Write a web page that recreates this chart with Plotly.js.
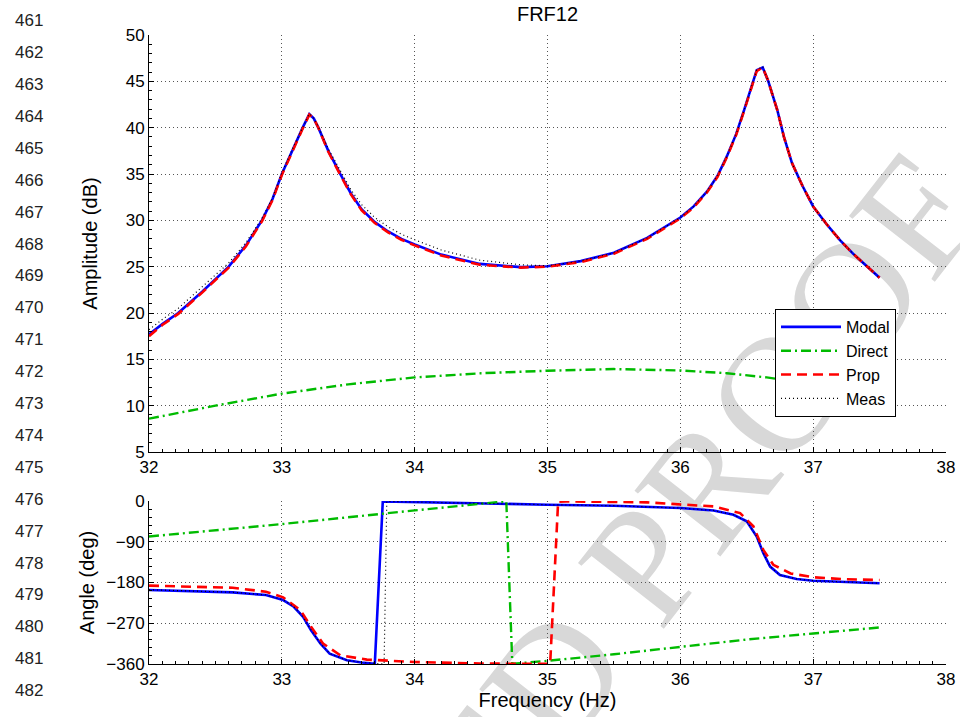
<!DOCTYPE html>
<html>
<head>
<meta charset="utf-8">
<script src="https://cdn.plot.ly/plotly-3.0.1.min.js"></script>
<style>
  html, body { margin: 0; padding: 0; background: #ffffff; }
  #chart { width: 960px; height: 717px; }
</style>
</head>
<body>
<div id="chart"></div>
<script>
// ---------- Amplitude (dB) ----------
const freqAmp = [32.0, 32.1, 32.22, 32.4, 32.6, 32.73, 32.85, 32.93, 33.0, 33.08, 33.157, 33.207, 33.24, 33.275, 33.35, 33.44, 33.52, 33.6, 33.7, 33.8, 33.9, 34.0, 34.2, 34.49, 34.8, 35.0, 35.25, 35.5, 35.75, 36.0, 36.1, 36.2, 36.28, 36.35, 36.42, 36.48, 36.53, 36.575, 36.62, 36.66, 36.73, 36.78, 36.84, 36.92, 37.0, 37.1, 37.2, 37.3, 37.4, 37.5];
const ampModal = [17.7, 18.8, 20.0, 22.3, 25.0, 27.3, 30.0, 32.3, 35.0, 37.6, 40.0, 41.45, 41.0, 40.0, 37.5, 35.0, 32.9, 31.2, 29.8, 28.8, 28.0, 27.4, 26.3, 25.3, 24.95, 25.05, 25.6, 26.5, 28.1, 30.3, 31.5, 33.1, 34.8, 36.9, 39.3, 41.9, 44.2, 46.2, 46.5, 45.1, 41.9, 39.0, 36.2, 33.7, 31.5, 29.6, 27.9, 26.4, 25.1, 23.8];
const ampProp  = [17.5, 18.7, 19.9, 22.2, 24.9, 27.2, 29.9, 32.2, 34.9, 37.5, 39.9, 41.4, 41.0, 40.0, 37.4, 34.9, 32.8, 31.1, 29.7, 28.7, 27.9, 27.3, 26.2, 25.2, 24.9, 25.0, 25.5, 26.4, 28.0, 30.2, 31.4, 33.0, 34.7, 36.8, 39.2, 41.8, 44.1, 46.1, 46.5, 45.1, 41.9, 39.0, 36.2, 33.7, 31.5, 29.6, 27.9, 26.4, 25.1, 23.8];
const ampMeas  = [18.2, 19.3, 20.5, 22.8, 25.4, 27.6, 30.2, 32.4, 35.1, 37.7, 40.1, 41.5, 41.0, 40.1, 37.7, 35.3, 33.3, 31.7, 30.3, 29.3, 28.5, 27.9, 26.8, 25.7, 25.2, 25.1, 25.6, 26.5, 28.1, 30.3, 31.5, 33.1, 34.8, 36.9, 39.3, 41.9, 44.2, 46.2, 46.6, 45.1, 41.9, 39.0, 36.2, 33.7, 31.5, 29.6, 27.9, 26.4, 25.1, 23.8];
const freqAmpDirect = [32.0, 32.5, 33.0, 33.5, 34.0, 34.5, 35.0, 35.5, 36.0, 36.35, 36.65, 37.0, 37.5];
const ampDirect = [8.6, 10.0, 11.3, 12.3, 13.05, 13.5, 13.77, 13.95, 13.8, 13.5, 13.05, 12.3, 11.0];

// ---------- Angle (deg) ----------
const freqPhModal = [32.0, 32.3, 32.63, 32.88, 33.01, 33.09, 33.16, 33.22, 33.29, 33.36, 33.49, 33.6, 33.70, 33.76, 34.0, 34.49, 35.0, 35.5, 36.0, 36.25, 36.4, 36.5, 36.575, 36.625, 36.676, 36.75, 36.875, 37.0, 37.25, 37.5];
const phModal = [-196.6, -198.5, -201.8, -207.7, -218.8, -233.6, -255.8, -285.3, -314.8, -337.0, -351.8, -356.5, -359.5, -0.9, -2.5, -6.0, -8.2, -10.4, -15.6, -20.8, -30.4, -45.0, -78.5, -115.3, -144.9, -163.4, -172.2, -176.0, -179.6, -181.8];
const freqPhMeas = [32.0, 32.3, 32.63, 32.88, 33.01, 33.09, 33.16, 33.22, 33.29, 33.36, 33.49, 33.6, 33.70, 33.77, 33.79, 34.0, 34.49, 35.0, 35.5, 36.0, 36.25, 36.4, 36.5, 36.575, 36.625, 36.676, 36.75, 36.875, 37.0, 37.25, 37.5];
const phMeas = [-196.0, -198.0, -201.5, -207.5, -218.5, -233.0, -255.5, -285.0, -314.5, -337.0, -351.5, -356.5, -359.3, -359.9, -1.0, -2.5, -6.0, -8.2, -10.4, -15.6, -20.8, -30.4, -45.0, -78.5, -115.3, -144.9, -163.4, -172.2, -176.0, -179.6, -181.8];
const freqPhProp = [32.0, 32.63, 32.88, 33.01, 33.14, 33.22, 33.31, 33.44, 33.64, 34.0, 34.49, 34.94, 35.02, 35.08, 35.14, 35.75, 36.25, 36.45, 36.55, 36.625, 36.70, 36.83, 37.0, 37.25, 37.5];
const phProp = [-187.0, -191.5, -200.4, -212.8, -241.0, -278.0, -314.8, -340.7, -350.3, -355.6, -359.0, -359.8, -359.8, -1.5, -0.8, -3.0, -12.0, -26.7, -56.0, -108.0, -141.0, -160.0, -168.5, -172.9, -174.5];
const freqPhDirect = [32.0, 33.0, 34.0, 34.49, 34.64, 34.69, 34.735, 35.0, 35.5, 36.0, 36.5, 37.0, 37.5];
const phDirect = [-78.4, -51.0, -20.8, -6.0, -2.0, -0.5, -359.5, -353.0, -338.5, -322.3, -306.0, -292.6, -279.3];

// ---------- Labels ----------
const seriesNames = ["Modal", "Direct", "Prop", "Meas"];
const xTicks = [32, 33, 34, 35, 36, 37, 38];
const ampTicks = [5, 10, 15, 20, 25, 30, 35, 40, 45, 50];
const angleTicks = [-360, -270, -180, -90, 0];
const lineNumbers = [461, 462, 463, 464, 465, 466, 467, 468, 469, 470, 471, 472, 473, 474, 475, 476, 477, 478, 479, 480, 481, 482];
const watermark = "UNCORRECTED PROOF";

// ---------- Styles ----------
const FONT = "Liberation Sans, Arial, Helvetica, sans-serif";
const sModal  = {color: "#0000ff", width: 2.6, dash: "solid"};
const sDirect = {color: "#00bb00", width: 2.4, dash: "10px,4px,2px,4px"};
const sProp   = {color: "#ff0000", width: 2.6, dash: "10px,6px"};
const sMeas   = {color: "#000000", width: 1.2, dash: "1px,3px"};

const traces = [
  {x: freqAmp, y: ampModal, name: seriesNames[0], type: "scatter", mode: "lines", line: sModal, xaxis: "x", yaxis: "y", legendrank: 1},
  {x: freqAmpDirect, y: ampDirect, name: seriesNames[1], type: "scatter", mode: "lines", line: sDirect, xaxis: "x", yaxis: "y", legendrank: 2},
  {x: freqAmp, y: ampProp, name: seriesNames[2], type: "scatter", mode: "lines", line: sProp, xaxis: "x", yaxis: "y", legendrank: 3},
  {x: freqAmp, y: ampMeas, name: seriesNames[3], type: "scatter", mode: "lines", line: sMeas, xaxis: "x", yaxis: "y", legendrank: 4},
  {x: freqPhModal, y: phModal, name: seriesNames[0], type: "scatter", mode: "lines", line: sModal, xaxis: "x2", yaxis: "y2", showlegend: false},
  {x: freqPhDirect, y: phDirect, name: seriesNames[1], type: "scatter", mode: "lines", line: sDirect, xaxis: "x2", yaxis: "y2", showlegend: false},
  {x: freqPhProp, y: phProp, name: seriesNames[2], type: "scatter", mode: "lines", line: sProp, xaxis: "x2", yaxis: "y2", showlegend: false},
  {x: freqPhMeas, y: phMeas, name: seriesNames[3], type: "scatter", mode: "lines", line: sMeas, xaxis: "x2", yaxis: "y2", showlegend: false}
];

// geometry (pixels) -> paper coordinates
const W = 960, H = 717, ML = 149, MR = 14, MT = 35, MB = 53;
const PW = W - ML - MR, PH = H - MT - MB;
const px = v => (v - ML) / PW;
const py = v => (H - MB - v) / PH;

const common = {
  showline: true, linecolor: "#000", linewidth: 1, mirror: false,
  ticks: "inside", ticklen: 5, tickwidth: 1, tickcolor: "#000",
  showgrid: true, gridcolor: "#555", gridwidth: 1, griddash: "1px,3px",
  zeroline: false,
  tickfont: {family: FONT, size: 17, color: "#000"},
  title: {font: {family: FONT, size: 20, color: "#000"}}
};

const annotations = lineNumbers.map((n, i) => ({
  text: String(n), xref: "paper", yref: "paper",
  x: px(29), y: py(20.7 + i * 31.9), xanchor: "center", yanchor: "middle",
  showarrow: false, font: {family: FONT, size: 17, color: "#222"}
}));

const layout = {
  width: W, height: H, autosize: false,
  margin: {l: ML, r: MR, t: MT, b: MB, pad: 0},
  paper_bgcolor: "#ffffff", plot_bgcolor: "#ffffff",
  showlegend: true,
  title: {text: "FRF12", x: 0.5, xref: "paper", xanchor: "center", y: 1 - 14 / H, yref: "container", yanchor: "middle",
          font: {family: FONT, size: 20, color: "#000"}},
  xaxis: Object.assign({}, common, {
    domain: [0, 1], anchor: "y", range: [32, 38], tickvals: xTicks,
    minor: {ticks: "inside", ticklen: 3, tickcolor: "#000", dtick: 0.1, tick0: 32, showgrid: false}
  }),
  yaxis: Object.assign({}, common, {
    domain: [py(452), 1], anchor: "x", range: [5, 50], tickvals: ampTicks,
    minor: {ticks: "inside", ticklen: 3, tickcolor: "#000", dtick: 1, tick0: 5, showgrid: false},
    title: {text: "Amplitude (dB)", standoff: 22, font: {family: FONT, size: 20, color: "#000"}}
  }),
  xaxis2: Object.assign({}, common, {
    domain: [0, 1], anchor: "y2", range: [32, 38], tickvals: xTicks,
    minor: {ticks: "inside", ticklen: 3, tickcolor: "#000", dtick: 0.1, tick0: 32, showgrid: false},
    title: {text: "Frequency (Hz)", standoff: 4, font: {family: FONT, size: 20, color: "#000"}}
  }),
  yaxis2: Object.assign({}, common, {
    domain: [0, py(501)], anchor: "x2", range: [-360, 0], tickvals: angleTicks,
    minor: {ticks: "inside", ticklen: 3, tickcolor: "#000", dtick: 18, tick0: 0, showgrid: false},
    title: {text: "Angle (deg)", standoff: 6, font: {family: FONT, size: 20, color: "#000"}}
  }),
  legend: {
    x: px(775), y: py(309), xanchor: "left", yanchor: "top",
    bgcolor: "#ffffff", bordercolor: "#000", borderwidth: 1,
    font: {family: FONT, size: 16, color: "#000"},
    itemwidth: 60, tracegroupgap: 0
  },
  shapes: [{
    type: "rect", xref: "paper", yref: "paper", layer: "below",
    x0: px(377), x1: px(379), y0: py(876), y1: py(874),
    line: {width: 0}, fillcolor: "rgba(0,0,0,0)",
    label: {text: watermark, textangle: -52, textposition: "middle center",
            font: {family: "Liberation Serif, Times New Roman, serif", size: 165, color: "#d8d8d8"}}
  }],
  annotations: annotations
};

Plotly.newPlot("chart", traces, layout, {staticPlot: true, displayModeBar: false});
</script>
</body>
</html>
